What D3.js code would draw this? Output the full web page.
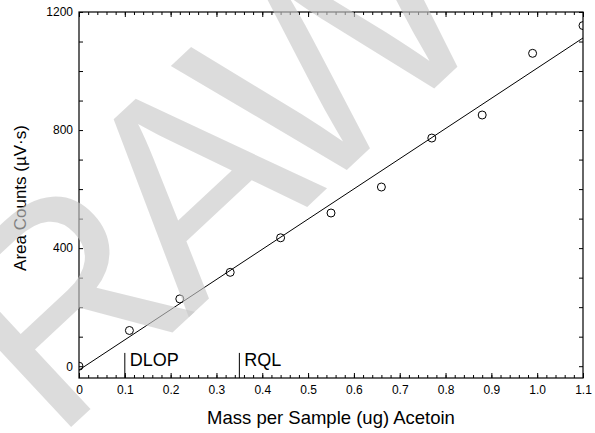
<!DOCTYPE html>
<html>
<head>
<meta charset="utf-8">
<script src="https://cdnjs.cloudflare.com/ajax/libs/d3/7.8.5/d3.min.js"></script>
<style>
  body { margin: 0; background: #fff; }
  text { font-family: "Liberation Sans", Arial, sans-serif; }
</style>
</head>
<body>
<div id="chart"></div>
<script>
var svgWidth = 595;
var svgHeight = 433;

var margin = { top: 12, right: 12, bottom: 55, left: 79 };
var width = svgWidth - margin.left - margin.right;
var height = svgHeight - margin.top - margin.bottom;

// data
var massValues = [0, 0.11, 0.22, 0.33, 0.44, 0.55, 0.66, 0.77, 0.88, 0.99, 1.1];
var areaValues = [0, 121, 228, 318, 435, 519, 607, 773, 851, 1060, 1154];
var fitLine = [[0, -13], [1.1, 1112]];
var limitNames = ["DLOP", "RQL"];
var limitValues = [0.1, 0.35];
var xTicks = [0, 0.1, 0.2, 0.3, 0.4, 0.5, 0.6, 0.7, 0.8, 0.9, 1.0, 1.1];
var yTicks = [0, 400, 800, 1200];

var svg = d3.select("#chart")
  .append("svg")
  .attr("width", svgWidth)
  .attr("height", svgHeight);

var chartGroup = svg.append("g")
  .attr("transform", `translate(${margin.left}, ${margin.top})`);

var xScale = d3.scaleLinear().domain([0, 1.1]).range([0, width]);
var yScale = d3.scaleLinear().domain([-40, 1200]).range([height, 0]);

svg.append("defs").append("clipPath")
  .attr("id", "plotClip")
  .append("rect")
  .attr("width", width)
  .attr("height", height);

// minor + major ticks, all pointing inward
var xMinor = d3.range(0, 1.1001, 0.02);
var yMinor = d3.range(0, 1200.1, 100);

function tickAxis(axisFn, scale, values, size) {
  return axisFn(scale).tickValues(values).tickSize(size).tickFormat("");
}

chartGroup.append("g").attr("class", "ax")
  .attr("transform", `translate(0, ${height})`)
  .call(tickAxis(d3.axisTop, xScale, xMinor, 3));
chartGroup.append("g").attr("class", "ax")
  .attr("transform", `translate(0, ${height})`)
  .call(tickAxis(d3.axisTop, xScale, xTicks, 5));
chartGroup.append("g").attr("class", "ax")
  .call(tickAxis(d3.axisBottom, xScale, xMinor, 3));
chartGroup.append("g").attr("class", "ax")
  .call(tickAxis(d3.axisBottom, xScale, xTicks, 5));
chartGroup.append("g").attr("class", "ax")
  .call(tickAxis(d3.axisRight, yScale, yMinor, 4));
chartGroup.append("g").attr("class", "ax")
  .attr("transform", `translate(${width}, 0)`)
  .call(tickAxis(d3.axisLeft, yScale, yMinor, 4));

chartGroup.selectAll(".ax .domain").remove();
chartGroup.selectAll(".ax line").attr("stroke", "#000");

// tick labels
chartGroup.append("g")
  .attr("transform", `translate(0, ${height})`)
  .call(d3.axisBottom(xScale).tickValues(xTicks).tickSize(0).tickPadding(7.5)
    .tickFormat(d => d === 0 ? "0" : d3.format(".1f")(d)))
  .call(g => g.select(".domain").remove())
  .selectAll("text").attr("font-size", "12px").attr("font-family", "Liberation Sans, Arial, sans-serif").attr("fill", "#000");

chartGroup.append("g")
  .call(d3.axisLeft(yScale).tickValues(yTicks).tickSize(0).tickPadding(6)
    .tickFormat(d3.format("d")))
  .call(g => g.select(".domain").remove())
  .selectAll("text").attr("font-size", "12px").attr("font-family", "Liberation Sans, Arial, sans-serif").attr("fill", "#000");

// frame
chartGroup.append("rect")
  .attr("width", width)
  .attr("height", height)
  .attr("fill", "none")
  .attr("stroke", "#000")
  .attr("stroke-width", 1.2);

// regression line
var plot = chartGroup.append("g").attr("clip-path", "url(#plotClip)");

plot.append("path")
  .datum(fitLine)
  .attr("fill", "none")
  .attr("stroke", "#000")
  .attr("stroke-width", 1)
  .attr("d", d3.line().x(d => xScale(d[0])).y(d => yScale(d[1])));

// points
plot.selectAll("circle")
  .data(massValues)
  .enter()
  .append("circle")
  .attr("cx", d => xScale(d))
  .attr("cy", (d, i) => yScale(areaValues[i]))
  .attr("r", 4)
  .attr("fill", "none")
  .attr("stroke", "#000")
  .attr("stroke-width", 1);

// limit markers
limitValues.forEach(function(v, i) {
  chartGroup.append("line")
    .attr("x1", xScale(v)).attr("x2", xScale(v))
    .attr("y1", yScale(45)).attr("y2", height)
    .attr("stroke", "#000");
  chartGroup.append("text")
    .attr("x", xScale(v) + 5)
    .attr("y", yScale(0))
    .attr("font-size", "18px")
    .text(limitNames[i]);
});

// axis titles
chartGroup.append("text")
  .attr("transform", `translate(${width / 2}, ${height + 46})`)
  .style("text-anchor", "middle")
  .attr("font-size", "18.5px")
  .text("Mass per Sample (ug) Acetoin");

chartGroup.append("text")
  .attr("transform", `translate(${-53}, ${height / 2 + 3}) rotate(-90)`)
  .style("text-anchor", "middle")
  .attr("font-size", "17px")
  .text("Area Counts (\u00b5V\u00b7s)");

// watermark on top
svg.append("text")
  .attr("transform", "translate(54, 443) rotate(-43)")
  .attr("font-size", "285px")
  .attr("letter-spacing", "-22px")
  .attr("fill", "#c9c9c9")
  .attr("fill-opacity", 0.64)
  .text("RAW");
</script>
</body>
</html>
